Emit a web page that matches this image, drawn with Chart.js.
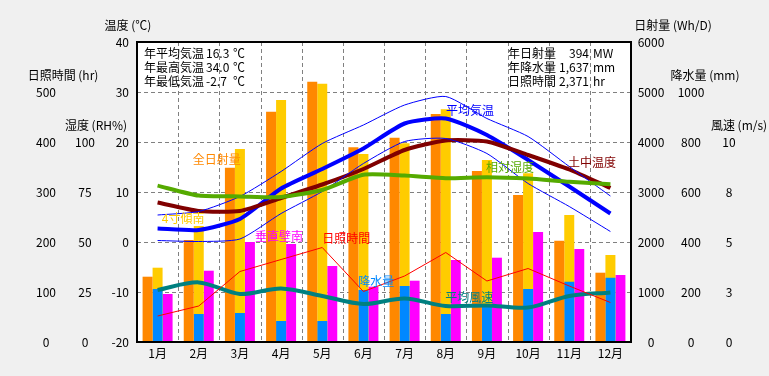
<!DOCTYPE html>
<html lang="ja">
<head>
<meta charset="utf-8">
<script src="https://cdn.jsdelivr.net/npm/chart.js@4.4.1/dist/chart.umd.min.js"></script>
<style>
  html, body { margin: 0; padding: 0; background: #f0f0f0; }
  #kikouChart { display: block; }
</style>
</head>
<body>
<canvas id="kikouChart" width="769" height="376"></canvas>
<script>
// 月
const months = ['1月', '2月', '3月', '4月', '5月', '6月', '7月', '8月', '9月', '10月', '11月', '12月'];

// 日射量 (Wh/D)
const zenNissha = [1306, 2040, 3486, 4606, 5206, 3894, 4086, 4560, 3420, 2940, 2026, 1386];
const keishaMinami = [1486, 2320, 3860, 4840, 5166, 3760, 3974, 4654, 3640, 3374, 2540, 1740];
const suichokuMinami = [960, 1426, 2000, 1960, 1520, 1106, 1226, 1640, 1686, 2200, 1860, 1340];
// 降水量 (mm)
const kousuiryou = [212, 112, 116, 84, 84, 208, 224, 112, 144, 212, 241, 257];
// 日照時間 (hr)
const nisshouJikan = [52, 72, 141, 165, 189, 101, 132, 179, 122, 147, 112, 79];
// 気温・土中温度 (℃)
const kionHeikin = [2.7, 2.4, 4.6, 10.7, 14.6, 18.7, 23.7, 24.7, 21.4, 16.4, 11.1, 5.7];
const kionSaikou = [5.4, 6.1, 9.1, 14.1, 19.7, 23.4, 27.4, 29.1, 24.7, 21.1, 15.1, 9.2];
const kionSaitei = [0.3, 0.1, 0.6, 5.7, 10.1, 15.7, 20.1, 20.7, 17.7, 11.7, 7.1, 2.1];
const dochuOndo = [7.9, 6.2, 6.2, 8.8, 11.5, 14.6, 18.4, 20.3, 20.1, 17.4, 14.5, 10.8];
// 相対湿度 (RH%)
const soutaiShitsudo = [78.2, 73.2, 72.8, 72.5, 76, 83.6, 83.2, 81.9, 82.4, 81.7, 80.1, 78.9];
// 平均風速 (m/s)
const heikinFuusoku = [2.6, 2.98, 2.4, 2.68, 2.3, 1.9, 2.18, 1.8, 1.83, 1.72, 2.3, 2.48];

// 目盛り
const ondoTicks = [-20, -10, 0, 10, 20, 30, 40];
const nisshaTicks = [0, 1000, 2000, 3000, 4000, 5000, 6000];
const kousuiTicks = [0, 200, 400, 600, 800, 1000];
const nisshouTicks = [0, 100, 200, 300, 400, 500];
const shitsudoTicks = [0, 25, 50, 75, 100];
const fuusokuTicks = [0, 2.5, 5, 7.5, 10];

// 年間の値
const nenKionNames = ['年平均気温', '年最高気温', '年最低気温'];
const nenKionValues = ['16.3', '34.0', '-2.7'];
const nenNames = ['年日射量', '年降水量', '日照時間'];
const nenValues = ['394', '1,637', '2,371'];
const nenUnits = ['MW', 'mm', 'hr'];

const FONT = '"Noto Sans CJK JP", "DejaVu Sans", sans-serif';

// グラフ内のラベル (月の位置, 温度軸の値)
const seriesLabels = [
    { text: '全日射量', color: '#ff8800', idx: 1.44, val: 16.6 },
    { text: '4寸傾南', color: '#ffcc00', idx: 0.62, val: 4.8 },
    { text: '垂直壁南', color: '#ff00ff', idx: 2.95, val: 1.2 },
    { text: '日照時間', color: '#ff0000', idx: 4.58, val: 0.8 },
    { text: '降水量', color: '#0088ff', idx: 5.31, val: -7.8 },
    { text: '平均風速', color: '#008080', idx: 7.57, val: -11 },
    { text: '平均気温', color: '#0000ff', idx: 7.59, val: 26.4 },
    { text: '相対湿度', color: '#55aa00', idx: 8.56, val: 15 },
    { text: '土中温度', color: '#800000', idx: 10.55, val: 16 }
];

// 軸の目盛りと見出し
const ejesConfig = [
    { id: 'yOndo', ticks: ondoTicks, x: 129, align: 'right', title: '温度 (℃)', tx: 128, ty: 25 },
    { id: 'yShitsudo', ticks: shitsudoTicks, x: 85, align: 'center', title: '湿度 (RH%)', tx: 96, ty: 125 },
    { id: 'yNisshou', ticks: nisshouTicks, x: 46, align: 'center', title: '日照時間 (hr)', tx: 63, ty: 75 },
    { id: 'yNissha', ticks: nisshaTicks, x: 651, align: 'center', title: '日射量 (Wh/D)', tx: 673, ty: 25 },
    { id: 'yKousui', ticks: kousuiTicks, x: 691, align: 'center', title: '降水量 (mm)', tx: 705, ty: 75 },
    { id: 'yFuusoku', ticks: fuusokuTicks, x: 729, align: 'center', title: '風速 (m/s)', tx: 739, ty: 125, fmt: v => String(Math.round(v)) }
];

const fondoPlugin = {
    id: 'fondo',
    beforeDraw(chart) {
        const { ctx, chartArea: a, scales } = chart;
        ctx.save();
        ctx.fillStyle = '#f0f0f0';
        ctx.fillRect(0, 0, chart.width, chart.height);
        ctx.fillStyle = '#ffffff';
        ctx.fillRect(a.left, a.top, a.right - a.left, a.bottom - a.top);
        ctx.strokeStyle = '#808080';
        ctx.lineWidth = 1;
        ctx.setLineDash([4, 3]);
        ondoTicks.forEach(v => {
            if (v <= scales.yOndo.min || v >= scales.yOndo.max) return;
            const y = Math.round(scales.yOndo.getPixelForValue(v)) + 0.5;
            ctx.beginPath();
            ctx.moveTo(a.left, y);
            ctx.lineTo(a.right, y);
            ctx.stroke();
        });
        for (let i = 0; i < months.length - 1; i++) {
            const x = Math.round((scales.x.getPixelForValue(i) + scales.x.getPixelForValue(i + 1)) / 2) + 0.5;
            ctx.beginPath();
            ctx.moveTo(x, a.top);
            ctx.lineTo(x, a.bottom);
            ctx.stroke();
        }
        ctx.restore();
    },
    afterDatasetsDraw(chart) {
        const { ctx, chartArea: a, scales } = chart;
        ctx.save();
        ctx.textBaseline = 'middle';

        // ラベル
        ctx.font = '12px ' + FONT;
        ctx.textAlign = 'center';
        seriesLabels.forEach(l => {
            ctx.fillStyle = l.color;
            ctx.fillText(l.text, scales.x.getPixelForValue(l.idx), scales.yOndo.getPixelForValue(l.val));
        });

        // 枠
        ctx.strokeStyle = '#000000';
        ctx.lineWidth = 2;
        ctx.strokeRect(a.left, a.top, a.right - a.left, a.bottom - a.top);

        // 月
        ctx.fillStyle = '#000000';
        months.forEach((m, i) => ctx.fillText(m, scales.x.getPixelForValue(i), a.bottom + 11));

        // 軸
        ejesConfig.forEach(e => {
            const sc = scales[e.id];
            ctx.textAlign = e.align;
            e.ticks.forEach(v => {
                ctx.fillText(e.fmt ? e.fmt(v) : String(v), e.x, sc.getPixelForValue(v));
            });
            ctx.textAlign = 'center';
            ctx.fillText(e.title, e.tx, e.ty);
        });

        // 年間の値
        nenKionNames.forEach((t, i) => {
            const y = a.top + 11 + i * 14;
            ctx.textAlign = 'left';
            ctx.fillText(t, a.left + 7, y);
            ctx.fillText(nenKionValues[i], a.left + 69, y);
            ctx.fillText('℃', a.left + 96, y);
        });
        nenNames.forEach((t, i) => {
            const y = a.top + 11 + i * 14;
            ctx.textAlign = 'left';
            ctx.fillText(t, 508, y);
            ctx.textAlign = 'right';
            ctx.fillText(nenValues[i], 589, y);
            ctx.textAlign = 'left';
            ctx.fillText(nenUnits[i], 593, y);
        });
        ctx.restore();
    }
};

function lineaDataset(data, color, width, axis, tension) {
    return {
        type: 'line',
        data: data,
        borderColor: color,
        borderWidth: width,
        pointRadius: 0,
        tension: tension,
        yAxisID: axis,
        order: 0
    };
}

function barraDataset(data, color, axis, stack) {
    return {
        type: 'bar',
        data: data,
        backgroundColor: color,
        borderWidth: 0,
        yAxisID: axis,
        stack: stack,
        barPercentage: 1,
        categoryPercentage: 0.7287,
        order: 1
    };
}

const ctx = document.getElementById('kikouChart').getContext('2d');
const kikouChart = new Chart(ctx, {
    type: 'bar',
    data: {
        labels: months,
        datasets: [
            barraDataset(zenNissha, '#ff8800', 'yNissha', 'a'),
            // 降水量は4寸傾南の前に重ねて描く
            barraDataset(kousuiryou, '#0088ff', 'yKousui', 'b'),
            barraDataset(keishaMinami, '#ffcc00', 'yNissha', 'b'),
            barraDataset(suichokuMinami, '#ff00ff', 'yNissha', 'c'),
            lineaDataset(nisshouJikan, '#ff0000', 1, 'yNisshou', 0),
            lineaDataset(heikinFuusoku, '#008080', 4, 'yFuusoku', 0.3),
            lineaDataset(soutaiShitsudo, '#55aa00', 4, 'yShitsudo', 0.2),
            lineaDataset(kionSaikou, '#0000ff', 1, 'yOndo', 0.2),
            lineaDataset(kionSaitei, '#0000ff', 1, 'yOndo', 0.2),
            lineaDataset(dochuOndo, '#800000', 4, 'yOndo', 0.2),
            lineaDataset(kionHeikin, '#0000ff', 4, 'yOndo', 0.2)
        ]
    },
    options: {
        responsive: false,
        animation: false,
        events: [],
        layout: { padding: { left: 137, right: 138, top: 42, bottom: 34 } },
        plugins: {
            legend: { display: false },
            tooltip: { enabled: false }
        },
        scales: {
            x: { type: 'category', display: false, offset: true },
            yOndo: { type: 'linear', display: false, min: -20, max: 40 },
            yNissha: { type: 'linear', display: false, min: 0, max: 6000 },
            yKousui: { type: 'linear', display: false, min: 0, max: 1200 },
            yNisshou: { type: 'linear', display: false, min: 0, max: 600 },
            yShitsudo: { type: 'linear', display: false, min: 0, max: 150 },
            yFuusoku: { type: 'linear', display: false, min: 0, max: 15 }
        }
    },
    plugins: [fondoPlugin]
});
</script>
</body>
</html>
